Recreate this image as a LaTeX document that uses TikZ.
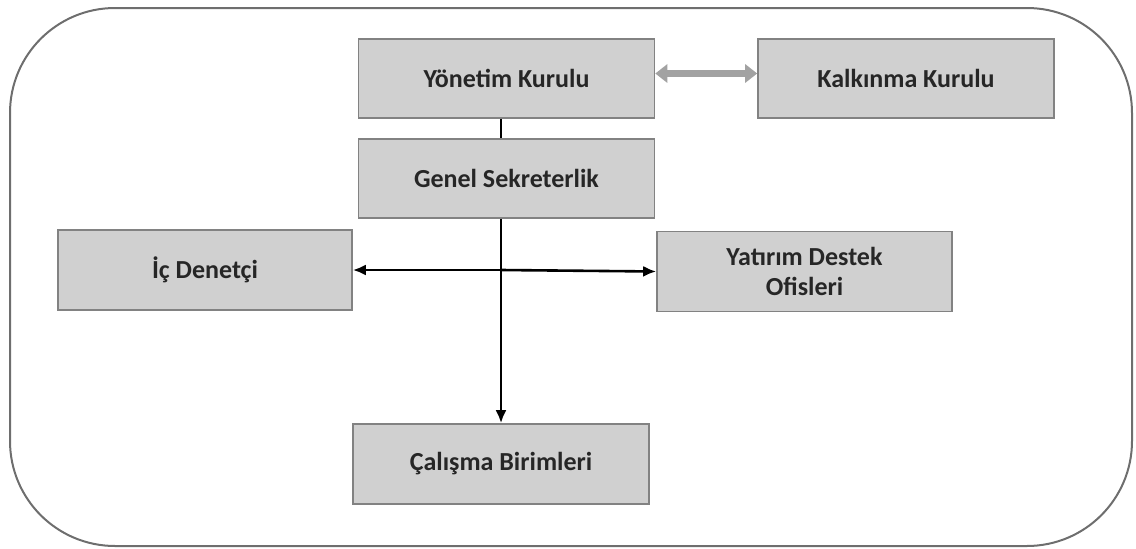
\documentclass[tikz,border=0pt]{standalone}
\usepackage{fontspec}
\setmainfont{Carlito}
\usetikzlibrary{arrows.meta, positioning, calc}
\definecolor{boxfill}{HTML}{D0D0D0}
\definecolor{boxline}{HTML}{828282}
\definecolor{frameline}{HTML}{6E6E6E}
\definecolor{textdark}{HTML}{262626}
\definecolor{linkgray}{HTML}{A2A2A2}

\begin{document}
\begin{tikzpicture}[
    x=1pt, y=-1pt,
    unit/.style={rectangle, draw=boxline, fill=boxfill, line width=1.6pt, minimum width=296pt, minimum height=79pt, align=center, text=textdark, font=\fontsize{26}{30}\selectfont\bfseries},
    arr/.style={-{Latex[length=13pt, width=11pt]}, line width=2.6pt, black},
    link/.style={{Triangle[length=12pt, width=18pt]}-{Triangle[length=12pt, width=18pt]}, line width=6.5pt, linkgray}
]
\useasboundingbox (0,0) rectangle (1136,549);

% Frame
\draw[frameline, line width=2pt, rounded corners=105pt] (10,8) rectangle (1132,546);

% Units
\node[unit] (yonetim) at (506.5,78.5) {Yönetim Kurulu};
\node[unit] (kalkinma) at (906,78.5) {Kalkınma Kurulu};
\node[unit] (genel) at (506.5,178.5) {Genel Sekreterlik};
\node[unit, minimum width=294pt, minimum height=80pt] (icdenetci) at (205,270) {İç Denetçi};
\node[unit, minimum width=295pt, minimum height=80pt] (yatirim) at (804.5,271.5) {Yatırım Destek\\Ofisleri};
\node[unit, minimum height=80pt] (calisma) at (501,464) {Çalışma Birimleri};

% Links
\draw[link] ([yshift=5pt]yonetim.east) -- ([yshift=5pt]kalkinma.west);
\draw[line width=2.6pt] (yonetim.south -| calisma) -- (genel.north -| calisma);
\draw[arr] (genel.south -| calisma) -- (calisma.north);
\coordinate (hub) at (calisma |- icdenetci.east);
\draw[arr] (hub) -- (icdenetci.east);
\draw[arr] (hub) -- (yatirim.west);

\end{tikzpicture}
\end{document}
